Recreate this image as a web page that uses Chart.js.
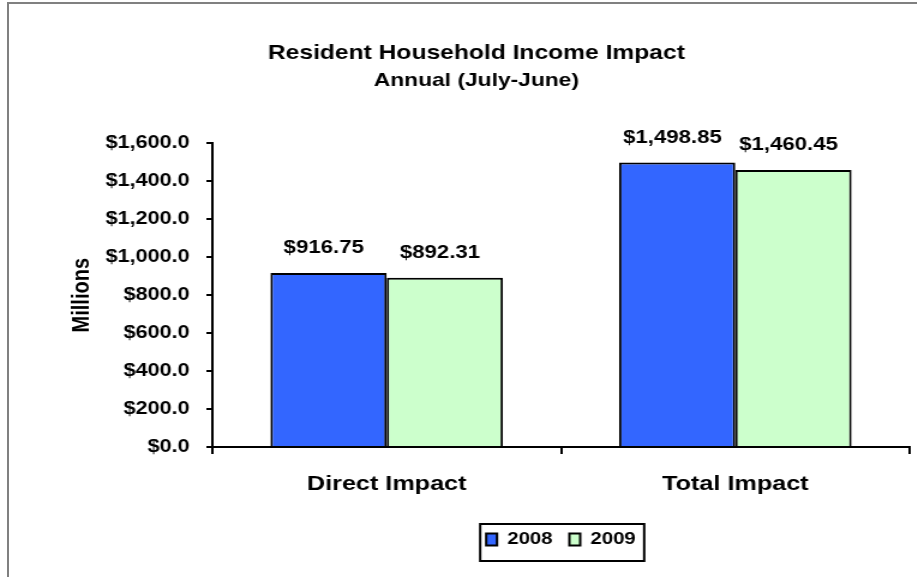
<!DOCTYPE html>
<html lang="en">
<head>
    <meta charset="UTF-8">
    <title>Resident Household Income Impact</title>
    <script src="https://cdn.jsdelivr.net/npm/chart.js"></script>
    <style>
        body {
            margin: 0;
            padding: 0;
            background: #ffffff;
            overflow: hidden;
            width: 917px;
            height: 577px;
            position: relative;
        }

        /* gray frame of the chart object, runs off the right and bottom edges */
        .frame {
            position: absolute;
            left: 7px;
            top: 2px;
            width: 1000px;
            height: 700px;
            border: 2px solid #808080;
        }

        /* the original picture is stretched sideways, so draw narrow and stretch */
        .stretch {
            position: absolute;
            left: 0;
            top: 0;
            width: 764px;
            height: 577px;
            transform: scaleX(1.2);
            transform-origin: 0 0;
        }
    </style>
</head>
<body>
    <div class="frame"></div>
    <div class="stretch">
        <canvas id="incomeChart" width="764" height="577"></canvas>
    </div>

    <script>
        const categories = ["Direct Impact", "Total Impact"];
        const seriesNames = ["2008", "2009"];
        const values2008 = [916.75, 1498.85];
        const values2009 = [892.31, 1460.45];
        const yTicks = [0, 200, 400, 600, 800, 1000, 1200, 1400, 1600];

        const FONT = "Arial, 'Liberation Sans', sans-serif";

        function money(v, digits) {
            return "$" + v.toLocaleString("en-US", {
                minimumFractionDigits: digits,
                maximumFractionDigits: digits
            });
        }

        // value labels above each bar
        const barLabels = {
            id: "barLabels",
            afterDatasetsDraw(chart) {
                const ctx = chart.ctx;
                ctx.save();
                ctx.font = "bold 18.5px " + FONT;
                ctx.fillStyle = "#000000";
                ctx.textAlign = "center";
                ctx.textBaseline = "middle";
                chart.data.datasets.forEach((ds, i) => {
                    chart.getDatasetMeta(i).data.forEach((bar, j) => {
                        ctx.fillText(money(ds.data[j], 2), bar.x - 4, bar.y - 25);
                    });
                });
                ctx.restore();
            }
        };

        // black box round the legend
        const legendFrame = {
            id: "legendFrame",
            afterDraw(chart) {
                const boxes = chart.legend.legendHitBoxes;
                if (!boxes || !boxes.length) return;
                const first = boxes[0];
                const last = boxes[boxes.length - 1];
                const ctx = chart.ctx;
                ctx.save();
                ctx.strokeStyle = "#000000";
                ctx.lineWidth = 2;
                const left = first.left - 5;
                const right = last.left + last.width + 7;
                const top = first.top - 7;
                const bottom = first.top + first.height + 13;
                ctx.strokeRect(left, top, right - left, bottom - top);
                ctx.restore();
            }
        };

        new Chart(document.getElementById("incomeChart"), {
            type: "bar",
            data: {
                labels: categories,
                datasets: [{
                    label: seriesNames[0],
                    data: values2008,
                    backgroundColor: "#3366ff",
                    borderColor: "#000000",
                    borderWidth: 2
                }, {
                    label: seriesNames[1],
                    data: values2009,
                    backgroundColor: "#ccffcc",
                    borderColor: "#000000",
                    borderWidth: 2
                }]
            },
            options: {
                responsive: false,
                animation: false,
                devicePixelRatio: 1,
                categoryPercentage: 0.667,
                barPercentage: 1.0,
                layout: {
                    padding: { left: 36, right: 6, top: 0, bottom: 19 }
                },
                plugins: {
                    title: {
                        display: true,
                        text: "Resident Household Income Impact",
                        color: "#000000",
                        font: { family: FONT, size: 20.5, weight: "bold" },
                        padding: { top: 41, bottom: 0 }
                    },
                    subtitle: {
                        display: true,
                        text: "Annual (July-June)",
                        color: "#000000",
                        font: { family: FONT, size: 19, weight: "bold" },
                        padding: { top: 4, bottom: 51 }
                    },
                    legend: {
                        position: "bottom",
                        fullSize: false,
                        labels: {
                            color: "#000000",
                            font: { family: FONT, size: 17, weight: "bold" },
                            boxWidth: 9,
                            boxHeight: 12,
                            padding: 14
                        }
                    },
                    tooltip: { enabled: false }
                },
                scales: {
                    x: {
                        afterFit(scale) { scale.height = 70; },
                        border: { color: "#000000", width: 2 },
                        grid: {
                            offset: true,
                            drawOnChartArea: false,
                            drawTicks: true,
                            tickLength: 7,
                            color: "#000000",
                            lineWidth: 2
                        },
                        ticks: {
                            color: "#000000",
                            font: { family: FONT, size: 21, weight: "bold" },
                            padding: 18
                        }
                    },
                    y: {
                        min: 0,
                        max: yTicks[yTicks.length - 1],
                        afterFit(scale) { scale.width = 141; },
                        afterBuildTicks(scale) {
                            scale.ticks = yTicks.map(v => ({ value: v }));
                        },
                        border: { color: "#000000", width: 2 },
                        grid: {
                            drawOnChartArea: false,
                            drawTicks: true,
                            tickLength: 5,
                            color: "#000000",
                            lineWidth: 2
                        },
                        ticks: {
                            color: "#000000",
                            font: { family: FONT, size: 18, weight: "bold" },
                            padding: 14,
                            callback: v => money(v, 1)
                        },
                        title: {
                            display: true,
                            text: "Millions",
                            color: "#000000",
                            font: { family: FONT, size: 20, weight: "bold" },
                            padding: { top: 20, bottom: 0 }
                        }
                    }
                }
            },
            plugins: [barLabels, legendFrame]
        });
    </script>
</body>
</html>
